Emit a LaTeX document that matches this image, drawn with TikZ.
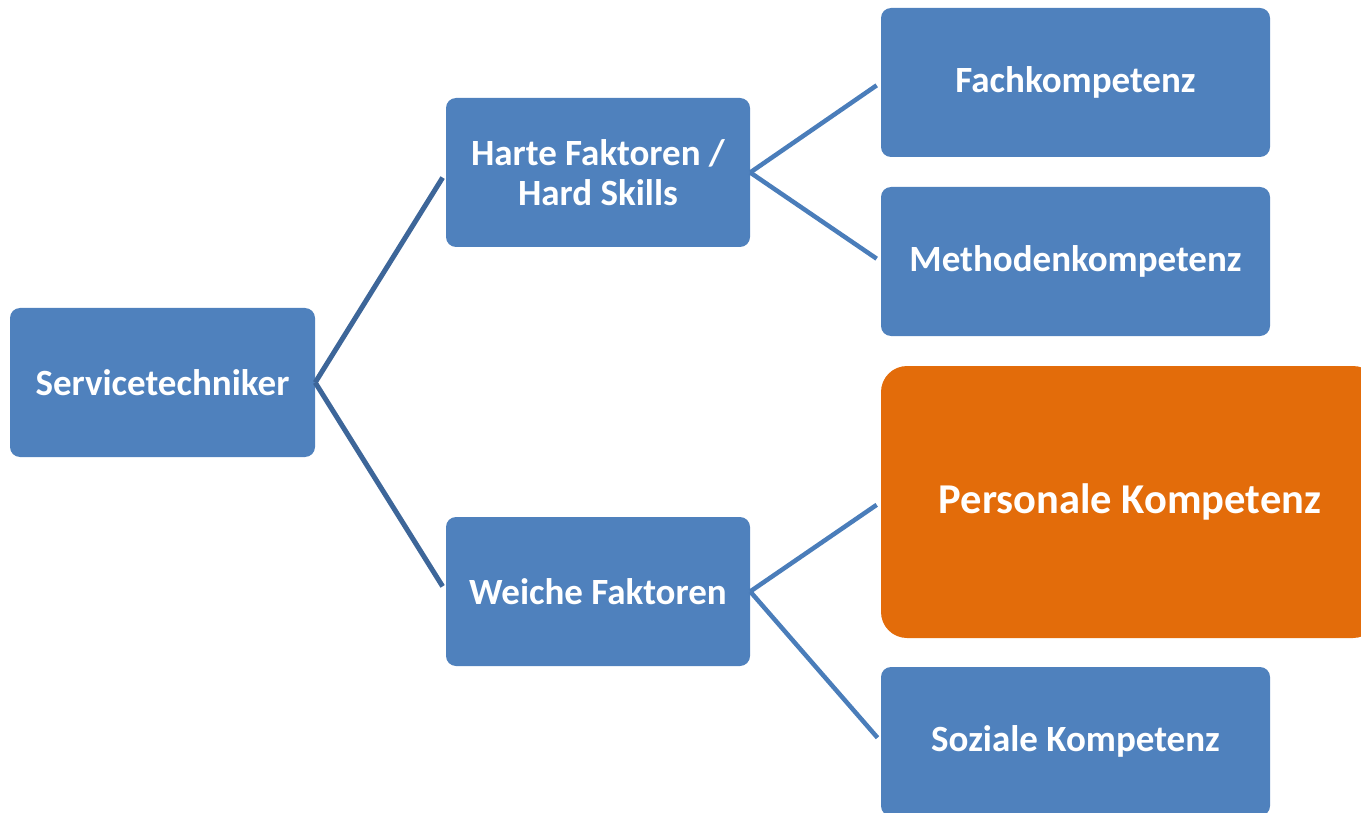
\documentclass[tikz,border=0pt]{standalone}
\usepackage{fontspec}
\setmainfont{Carlito}
\usepackage{tikz}
\definecolor{boxblue}{HTML}{4F81BD}
\definecolor{boxorange}{HTML}{E36C0A}
\definecolor{linedark}{HTML}{3D6699}
\definecolor{linelight}{HTML}{4A7DBA}

\begin{document}
\begin{tikzpicture}[x=1pt, y=-1pt,
  box/.style={rounded corners=10pt, fill=boxblue, text=white, font=\bfseries\fontsize{37}{40}\selectfont,
    minimum height=149pt, align=center, inner sep=0pt},
  bigbox/.style={box, fill=boxorange, rounded corners=26pt, font=\bfseries\fontsize{42.5}{48}\selectfont},
  lvlone/.style={linedark, line width=5pt, shorten >=6pt},
  lvltwo/.style={linelight, line width=4.5pt, shorten >=5pt}]
\useasboundingbox (0,0) rectangle (1361,813);
\node[box, minimum width=305pt] (root) at (162.5,382.5) {Servicetechniker};
\node[box, minimum width=304pt] (hard) at (598,172.5) {Harte Faktoren /\\Hard Skills};
\node[box, minimum width=304pt] (soft) at (598,591.5) {Weiche Faktoren};
\node[box, minimum width=389pt] (fach) at (1075.5,82.5) {Fachkompetenz};
\node[box, minimum width=389pt] (meth) at (1075.5,261.5) {Methodenkompetenz};
\node[bigbox, minimum width=498pt, minimum height=272pt] (pers) at (1130,502) {Personale Kompetenz};
\node[box, minimum width=389pt] (sozi) at (1075.5,741.5) {Soziale Kompetenz};
\draw[lvlone] (root.east) -- (hard.west);
\draw[lvlone] (root.east) -- (soft.west);
\draw[lvltwo] (hard.east) -- (fach.west);
\draw[lvltwo] (hard.east) -- (meth.west);
\draw[lvltwo] (soft.east) -- (pers.west);
\draw[lvltwo] (soft.east) -- (sozi.west);
\end{tikzpicture}
\end{document}
